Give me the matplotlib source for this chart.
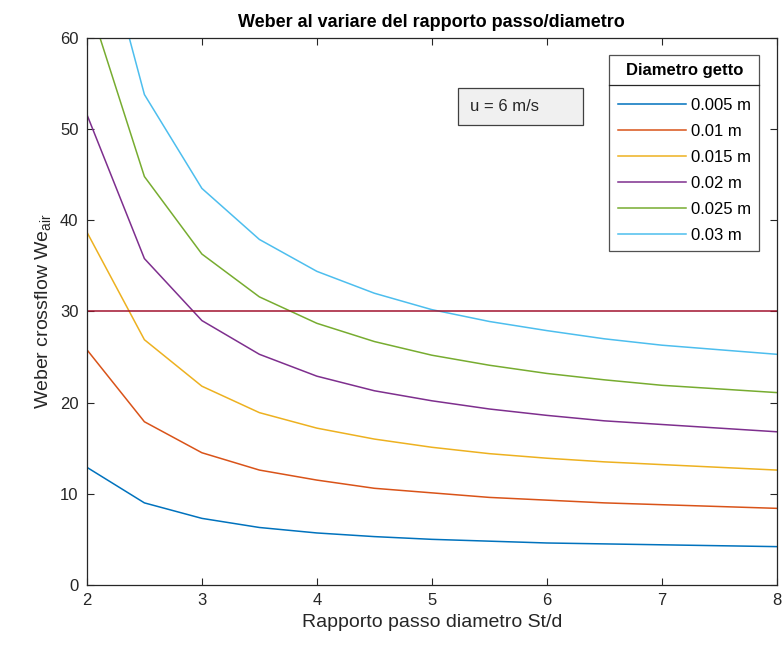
import matplotlib
matplotlib.use('Agg')
import matplotlib.pyplot as plt
from matplotlib.lines import Line2D
from matplotlib.patches import Rectangle

# Dati
rapporto = [2, 2.5, 3, 3.5, 4, 4.5, 5, 5.5, 6, 6.5, 7, 7.5, 8]
we_0005 = [12.9, 9.0, 7.3, 6.3, 5.7, 5.3, 5.0, 4.8, 4.6, 4.5, 4.4, 4.3, 4.2]
we_001 = [25.8, 17.9, 14.5, 12.6, 11.5, 10.6, 10.1, 9.6, 9.3, 9.0, 8.8, 8.6, 8.4]
we_0015 = [38.7, 26.9, 21.8, 18.9, 17.2, 16.0, 15.1, 14.4, 13.9, 13.5, 13.2, 12.9, 12.6]
we_002 = [51.6, 35.8, 29.0, 25.3, 22.9, 21.3, 20.2, 19.3, 18.6, 18.0, 17.6, 17.2, 16.8]
we_0025 = [64.5, 44.8, 36.3, 31.6, 28.7, 26.7, 25.2, 24.1, 23.2, 22.5, 21.9, 21.5, 21.1]
we_003 = [77.4, 53.8, 43.5, 37.9, 34.4, 32.0, 30.2, 28.9, 27.9, 27.0, 26.3, 25.8, 25.3]
etichette = ['0.005 m', '0.01 m', '0.015 m', '0.02 m', '0.025 m', '0.03 m']
soglia = 30

colori = ['#0072BD', '#D95319', '#EDB120', '#7E2F8E', '#77AC30', '#4DBEEE']

plt.rcParams['font.family'] = ['Liberation Sans', 'DejaVu Sans']

fig = plt.figure(figsize=(7.83, 6.55), dpi=100)
ax = fig.add_axes([0.111, 0.107, 0.881, 0.835])

serie = [we_0005, we_001, we_0015, we_002, we_0025, we_003]
for y, c, lab in zip(serie, colori, etichette):
    ax.plot(rapporto, y, color=c, lw=1.1, label=lab)
ax.axhline(soglia, color='#A2142F', lw=1.1)

ax.set_xlim(2, 8)
ax.set_ylim(0, 60)
ax.set_xticks(range(2, 9))
ax.set_yticks(range(0, 61, 10))
ax.tick_params(direction='in', length=5, top=True, right=True,
               labelsize=12, colors='#262626', pad=6)
for s in ax.spines.values():
    s.set_color('#262626')
    s.set_linewidth(0.9)

ax.set_xlabel('Rapporto passo diametro St/d', fontsize=14, color='#262626')
ax.set_ylabel('Weber crossflow We$_{\\mathregular{air}}$', fontsize=14, color='#262626')
ax.set_title('Weber al variare del rapporto passo/diametro', fontsize=13,
             fontweight='bold', pad=8)

# casella di testo
ax.add_patch(Rectangle((0.538, 0.841), 0.181, 0.068, transform=ax.transAxes,
                       fc='#f0f0f0', ec='#404040', lw=0.9, zorder=5))
ax.text(0.555, 0.875, 'u = 6 m/s', transform=ax.transAxes, fontsize=12,
        va='center', ha='left', zorder=6, color='#262626')

leg = ax.legend(title='Diametro getto', loc='upper right',
                bbox_to_anchor=(0.975, 0.969), borderaxespad=0, fontsize=12,
                frameon=True, fancybox=False, edgecolor='#262626',
                handlelength=4.1, handletextpad=0.3, labelspacing=0.66,
                borderpad=0.5)
leg.get_title().set_fontweight('bold')
leg.get_title().set_fontsize(12)
leg.get_frame().set_linewidth(0.9)
# spazio piu' ampio tra titolo e voci
leg._legend_box.sep = 14

# linea di separazione sotto il titolo della legenda
fig.canvas.draw()
fb = leg.get_frame().get_window_extent()
tb = leg.get_title().get_window_extent()
yline = tb.y0 - 7
inv = fig.transFigure.inverted()
x0, y0 = inv.transform((fb.x0, yline))
x1, _ = inv.transform((fb.x1, yline))
fig.add_artist(Line2D([x0, x1], [y0, y0], color='#262626', lw=0.9))

fig.savefig('out.png', dpi=100)
